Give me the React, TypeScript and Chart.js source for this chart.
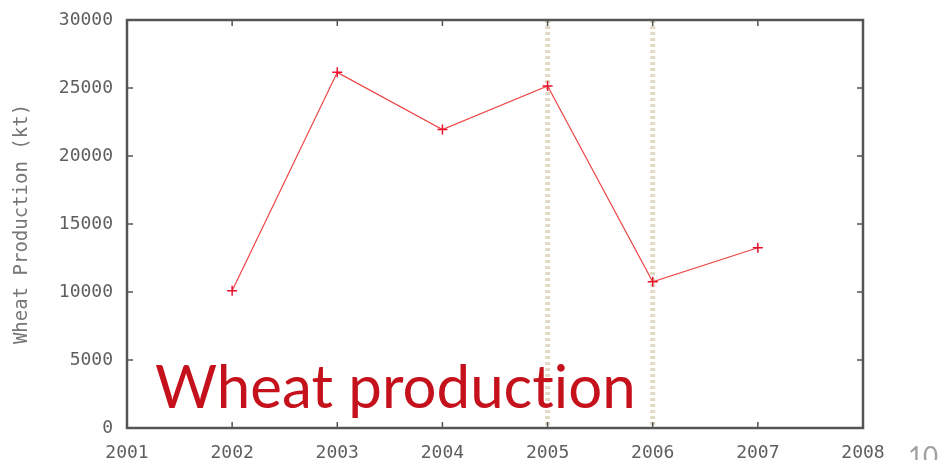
import React, { useEffect, useRef } from "react";
import { Chart, registerables } from "chart.js";

Chart.register(...registerables);

const years = [2002, 2003, 2004, 2005, 2006, 2007];
const production = [10100, 26150, 21950, 25150, 10750, 13250];
const highlightYears = [2005, 2006];
const xTicks = [2001, 2002, 2003, 2004, 2005, 2006, 2007, 2008];
const yTicks = [0, 5000, 10000, 15000, 20000, 25000, 30000];
const yTitle = "Wheat Production (kt)";
const overlayText = "Wheat production";
const slideNumber = "10";

const boxPlugin = {
  id: "gnuBox",
  beforeDatasetsDraw(chart: any) {
    const { ctx, chartArea: a, scales } = chart;
    ctx.save();
    ctx.strokeStyle = "rgba(218,212,184,0.85)";
    ctx.lineWidth = 5;
    ctx.setLineDash([3, 3]);
    highlightYears.forEach((yr) => {
      const x = scales.x.getPixelForValue(yr);
      ctx.beginPath();
      ctx.moveTo(x, a.top);
      ctx.lineTo(x, a.bottom);
      ctx.stroke();
    });
    ctx.restore();
  },
  afterDraw(chart: any) {
    const { ctx, chartArea: a, scales } = chart;
    ctx.save();
    ctx.strokeStyle = "#555";
    ctx.lineWidth = 1.5;
    const t = 6;
    ctx.beginPath();
    xTicks.forEach((v) => {
      const x = scales.x.getPixelForValue(v);
      ctx.moveTo(x, a.bottom);
      ctx.lineTo(x, a.bottom - t);
      ctx.moveTo(x, a.top);
      ctx.lineTo(x, a.top + t);
    });
    yTicks.forEach((v) => {
      const y = scales.y.getPixelForValue(v);
      ctx.moveTo(a.left, y);
      ctx.lineTo(a.left + t, y);
      ctx.moveTo(a.right, y);
      ctx.lineTo(a.right - t, y);
    });
    ctx.stroke();
    ctx.lineWidth = 2.5;
    ctx.strokeRect(a.left, a.top, a.right - a.left, a.bottom - a.top);
    ctx.restore();
  },
};

export default function App() {
  const ref = useRef<HTMLCanvasElement>(null);
  useEffect(() => {
    const chart = new Chart(ref.current!, {
      type: "line",
      data: {
        datasets: [
          {
            data: years.map((y, i) => ({ x: y, y: production[i] })),
            borderColor: "#ee4444",
            borderWidth: 1.2,
            pointStyle: "cross",
            pointRadius: 5,
            pointBorderColor: "#e8102a",
            pointBorderWidth: 1.5,
            fill: false,
            tension: 0,
          },
        ],
      },
      options: {
        responsive: false,
        animation: false,
        events: [],
        layout: { padding: { left: 0, right: 78, top: 20, bottom: 0 } },
        plugins: { legend: { display: false }, tooltip: { enabled: false } },
        scales: {
          x: {
            type: "linear",
            min: 2001,
            max: 2008,
            afterBuildTicks: (s: any) => {
              s.ticks = xTicks.map((v) => ({ value: v }));
            },
            afterFit: (s: any) => {
              s.height = 32;
            },
            grid: { display: false },
            border: { display: false },
            ticks: {
              padding: 7,
              color: "#5e5e5e",
              font: { family: "DejaVu Sans Mono", size: 18 },
              callback: (v: any) => String(v),
            },
          },
          y: {
            type: "linear",
            min: 0,
            max: 30000,
            afterBuildTicks: (s: any) => {
              s.ticks = yTicks.map((v) => ({ value: v }));
            },
            afterFit: (s: any) => {
              s.width = 127;
            },
            grid: { display: false },
            border: { display: false },
            title: {
              display: true,
              text: yTitle,
              color: "#777",
              font: { family: "DejaVu Sans Mono", size: 19 },
              padding: { top: 10.5, bottom: 0 },
            },
            ticks: {
              padding: 6,
              color: "#5e5e5e",
              font: { family: "DejaVu Sans Mono", size: 18 },
              callback: (v: any) => String(v),
            },
          },
        },
      },
      plugins: [boxPlugin],
    });
    return () => chart.destroy();
  }, []);

  return (
    <div
      style={{
        position: "fixed",
        left: 0,
        top: 0,
        width: 941,
        height: 460,
        overflow: "hidden",
        background: "#fff",
      }}
    >
      <canvas ref={ref} width={941} height={460} style={{ display: "block" }} />
      <div
        style={{
          position: "absolute",
          left: 155,
          top: 350,
          fontFamily: "Lato, 'Open Sans', sans-serif",
          fontSize: 60,
          lineHeight: "70px",
          color: "#c4111c",
          whiteSpace: "nowrap",
          fontVariantLigatures: "none",
        }}
      >
        {overlayText}
      </div>
      <div
        style={{
          position: "absolute",
          left: 908,
          top: 441,
          fontFamily: "Lato, 'Open Sans', sans-serif",
          fontSize: 26,
          lineHeight: "30px",
          color: "#a0a0a0",
          whiteSpace: "nowrap",
        }}
      >
        {slideNumber}
      </div>
    </div>
  );
}
